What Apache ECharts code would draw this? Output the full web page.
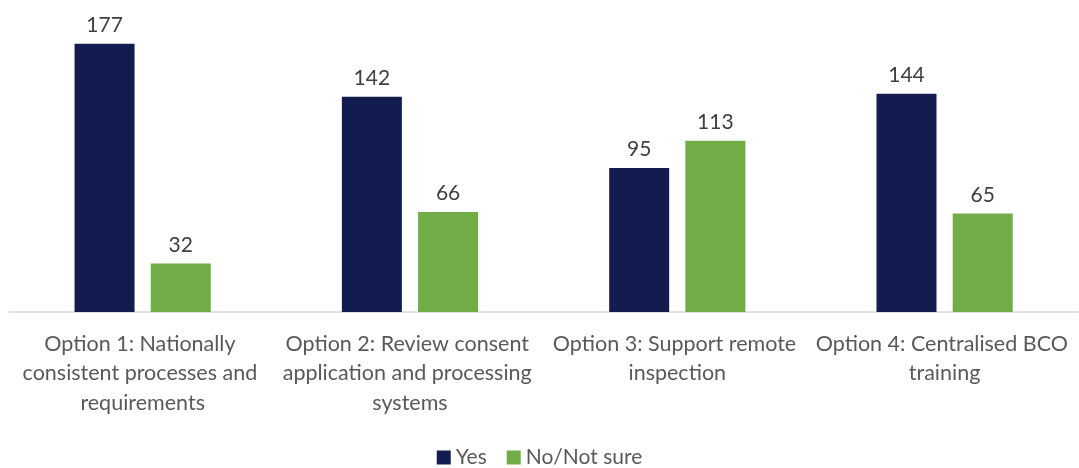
<!DOCTYPE html>
<html><head><meta charset="utf-8">
<script src="https://cdn.jsdelivr.net/npm/echarts@6/dist/echarts.min.js"></script>
<style>html,body{margin:0;padding:0;background:#fff}#c{width:1079px;height:468px}</style>
</head><body><div id="c"></div>
<script>
const categories = [
  "Option 1: Nationally consistent processes and requirements",
  "Option 2: Review consent application and processing systems",
  "Option 3: Support remote inspection",
  "Option 4: Centralised BCO training"
];
const yesValues = [177, 142, 95, 144];
const noValues = [32, 66, 113, 65];
const seriesNames = ["Yes", "No/Not sure"];

const chart = echarts.init(document.getElementById('c'));
const font = 'Lato, "Noto Sans", sans-serif';
chart.setOption({
  animation: false,
  grid: { left: 9, width: 1074, top: 9, bottom: 156, containLabel: false },
  legend: {
    top: 442, left: 'center', itemWidth: 14, itemHeight: 14, itemGap: 20,
    icon: 'rect',
    textStyle: { fontFamily: font, fontSize: 21, color: '#595959' },
    data: seriesNames
  },
  xAxis: {
    type: 'category', data: categories,
    axisLine: { lineStyle: { color: '#d9d9d9', width: 1.5 } },
    axisTick: { show: false },
    axisLabel: {
      interval: 0, margin: 17, width: 264, overflow: 'break',
      fontFamily: font, fontSize: 21.5, color: '#595959', lineHeight: 29.5
    }
  },
  yAxis: { type: 'value', min: 0, max: 200, show: false, splitLine: { show: false } },
  series: [
    { name: seriesNames[0], type: 'bar', data: yesValues, barWidth: 60, barGap: '27%',
      itemStyle: { color: '#121c4e' },
      label: { show: true, position: 'top', distance: 8, fontFamily: font, fontSize: 21, color: '#404040' } },
    { name: seriesNames[1], type: 'bar', data: noValues, barWidth: 60,
      itemStyle: { color: '#70ad47' },
      label: { show: true, position: 'top', distance: 8, fontFamily: font, fontSize: 21, color: '#404040' } }
  ]
});
</script></body></html>
